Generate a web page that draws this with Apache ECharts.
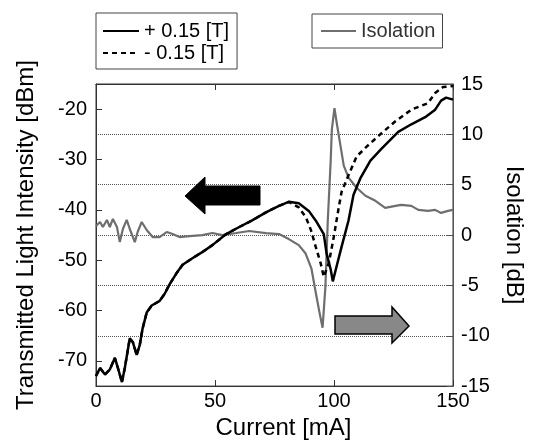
<!DOCTYPE html>
<html>
<head>
<meta charset="utf-8">
<script src="https://cdn.jsdelivr.net/npm/echarts@6/dist/echarts.min.js"></script>
<style>
  html, body { margin: 0; padding: 0; background: #fff; }
  #chart { width: 534px; height: 445px; }
</style>
</head>
<body>
<div id="chart"></div>
<script>
// + 0.15 [T] transmitted light (left axis)
const plusCurrent = [0, 1.7, 3.8, 5.8, 7.9, 9.2, 10.9, 12.1, 14.2, 15.5, 17.1, 18.4, 19.6, 21.3, 23.4, 26.7, 28.8, 30.9, 33.8, 36.4, 40.5, 44.3, 48.9, 54.7, 60.2, 65.6, 71.4, 76.9, 81.0, 85.2, 89.4, 92.3, 95.7, 96.9, 98.6, 99.5, 101.1, 103.2, 106.1, 108.2, 111.1, 115.3, 119.9, 127.0, 132.5, 138.3, 142.5, 145.0, 147.1, 150];
const plusPower = [-73, -71.4, -72.7, -71.7, -69.4, -71.4, -74.2, -71.4, -65.5, -66.3, -68.8, -66.8, -63.5, -60.4, -59.0, -58.1, -56.7, -54.8, -52.6, -50.9, -49.6, -48.5, -47.0, -44.8, -43.4, -42.1, -40.5, -39.2, -38.4, -38.7, -40.2, -42.1, -44.8, -48.7, -51.8, -54.2, -51.2, -47.3, -42.1, -37.0, -33.7, -30.2, -27.9, -24.5, -23.0, -21.6, -20.1, -18.3, -17.7, -18.1];

// - 0.15 [T] transmitted light (left axis)
const minusCurrent = [0, 1.7, 3.8, 5.8, 7.9, 9.2, 10.9, 12.1, 14.2, 15.5, 17.1, 18.4, 19.6, 21.3, 23.4, 26.7, 28.8, 30.9, 33.8, 36.4, 40.5, 44.3, 48.9, 54.7, 60.2, 65.6, 71.4, 76.9, 81.0, 85.2, 88.2, 90.3, 92.3, 94.4, 95.7, 96.3, 97.8, 99.9, 102.0, 103.2, 106.1, 109.5, 113.6, 118.7, 125.8, 132.5, 139.5, 142.5, 145.8, 150];
const minusPower = [-73, -71.4, -72.7, -71.7, -69.4, -71.4, -74.2, -71.4, -65.5, -66.3, -68.8, -66.8, -63.5, -60.4, -59.0, -58.1, -56.7, -54.8, -52.6, -50.9, -49.6, -48.5, -47.0, -44.8, -43.4, -42.1, -40.5, -39.2, -38.4, -39.5, -41.5, -44.0, -47.3, -50.6, -53.3, -53.5, -50.6, -45.4, -39.5, -36.4, -33.1, -29.4, -27.5, -25.3, -22.4, -20.1, -18.8, -16.8, -15.6, -15.4];

// Isolation (right axis)
const isoCurrent = [0, 1.7, 2.9, 4.6, 5.8, 7.1, 8.8, 10.0, 11.3, 12.9, 14.2, 16.3, 17.5, 19.2, 21.3, 23.8, 26.7, 29.7, 32.2, 35.1, 39.3, 44.7, 48.9, 53.1, 58.9, 64.4, 71.4, 76.9, 81.0, 85.2, 88.0, 90.5, 92.4, 94.0, 95.2, 96.4, 97.4, 98.6, 99.1, 100.2, 101.1, 102.7, 104.1, 106.1, 109.5, 113.2, 117.4, 121.5, 125.8, 128.3, 132.5, 135.4, 139.5, 142.5, 145.0, 147.9, 150];
const isolation = [0.9, 1.3, 0.8, 1.5, 0.8, 1.6, 0.8, -0.7, 0.6, 1.5, 0.6, -0.7, 0.3, 1.3, 0.5, -0.2, -0.2, 0.3, 0.1, -0.2, -0.1, 0.0, 0.2, 0.0, 0.2, 0.4, 0.2, 0.1, -0.4, -1.0, -1.8, -3.3, -5.8, -7.8, -9.2, -5.1, 1.5, 7.3, 10.5, 12.6, 11.2, 8.9, 6.9, 5.7, 4.7, 3.9, 3.4, 2.7, 2.9, 3.0, 2.9, 2.5, 2.4, 2.5, 2.2, 2.4, 2.5];

const leftTicks = [-70, -60, -50, -40, -30, -20];

const zip = (xs, ys) => xs.map((x, i) => [x, ys[i]]);

const chart = echarts.init(document.getElementById('chart'));
const font = '"Liberation Sans", Arial, sans-serif';

chart.setOption({
    animation: false,
    textStyle: { fontFamily: font },
    grid: { left: 96, right: 79, top: 84, bottom: 53, show: true, borderColor: '#333', borderWidth: 1 },
    legend: [
        {
            data: ['+ 0.15 [T]', '- 0.15 [T]'],
            orient: 'vertical',
            left: 96, top: 13,
            padding: [8, 8, 6, 6],
            itemGap: 2,
            itemWidth: 36, itemHeight: 14,
            itemStyle: { opacity: 0 },
            borderColor: '#444', borderWidth: 1,
            textStyle: { fontSize: 20, color: '#000', fontFamily: font, lineHeight: 20 }
        },
        {
            data: ['Isolation'],
            left: 312, top: 14,
            padding: [7, 7, 7, 8],
            itemWidth: 35, itemHeight: 14,
            itemStyle: { opacity: 0 },
            borderColor: '#444', borderWidth: 1,
            textStyle: { fontSize: 20, color: '#333', fontFamily: font, lineHeight: 20 }
        }
    ],
    xAxis: [
        {
            type: 'value', min: 0, max: 150, interval: 50, position: 'bottom',
            name: 'Current [mA]', nameLocation: 'middle', nameGap: 28,
            nameTextStyle: { fontSize: 24, color: '#000', fontFamily: font, padding: [0, 0, 0, 18] },
            axisLine: { show: true, onZero: false, lineStyle: { color: '#333' } },
            axisTick: { show: true, inside: true, length: 6, lineStyle: { color: '#333' } },
            axisLabel: { fontSize: 20, color: '#000', margin: 5, fontFamily: font },
            splitLine: { show: false }
        },
        {
            type: 'value', min: 0, max: 150, interval: 50, position: 'top',
            axisLine: { show: true, onZero: false, lineStyle: { color: '#333' } },
            axisTick: { show: true, inside: true, length: 6, lineStyle: { color: '#333' } },
            axisLabel: { show: false },
            splitLine: { show: false }
        }
    ],
    yAxis: [
        {
            type: 'value', min: -75, max: -15, interval: 5, position: 'left',
            name: 'Transmitted Light Intensity [dBm]', nameLocation: 'middle', nameGap: 58,
            nameTextStyle: { fontSize: 24, color: '#000', fontFamily: font },
            axisLine: { show: true, onZero: false, lineStyle: { color: '#333' } },
            axisTick: { show: true, inside: true, length: 6, customValues: leftTicks, lineStyle: { color: '#333' } },
            axisLabel: { fontSize: 20, color: '#000', margin: 9, customValues: leftTicks, fontFamily: font },
            splitLine: { show: false }
        },
        {
            type: 'value', min: -15, max: 15, interval: 5, position: 'right',
            name: 'Isolation [dB]', nameLocation: 'middle', nameGap: 49, nameRotate: -90,
            nameTextStyle: { fontSize: 24, color: '#000', fontFamily: font },
            axisLine: { show: true, onZero: false, lineStyle: { color: '#555' } },
            axisTick: { show: true, inside: true, length: 6, lineStyle: { color: '#555' } },
            axisLabel: { fontSize: 20, color: '#000', margin: 8, fontFamily: font },
            splitLine: { show: true, lineStyle: { type: 'dotted', color: '#555', width: 1 } }
        }
    ],
    graphic: [
        {
            type: 'polygon', z: 10,
            shape: { points: [[185, 196], [205, 177], [205, 186], [260, 186], [260, 205], [205, 205], [205, 214]] },
            style: { fill: '#000', stroke: '#000', lineWidth: 1 }
        },
        {
            type: 'polygon', z: 10,
            shape: { points: [[409, 326], [392, 307], [392, 316], [335, 316], [335, 334], [392, 334], [392, 343]] },
            style: { fill: '#888', stroke: '#000', lineWidth: 1.5 }
        }
    ],
    series: [
        {
            name: 'Isolation', type: 'line', xAxisIndex: 0, yAxisIndex: 1,
            data: zip(isoCurrent, isolation), symbol: 'none',
            lineStyle: { color: '#6e6e6e', width: 2.2 }, itemStyle: { color: '#6e6e6e' }
        },
        {
            name: '- 0.15 [T]', type: 'line', xAxisIndex: 0, yAxisIndex: 0,
            data: zip(minusCurrent, minusPower), symbol: 'none',
            lineStyle: { color: '#000', width: 2.5, type: [5, 4] }, itemStyle: { color: '#000' }
        },
        {
            name: '+ 0.15 [T]', type: 'line', xAxisIndex: 0, yAxisIndex: 0,
            data: zip(plusCurrent, plusPower), symbol: 'none',
            lineStyle: { color: '#000', width: 2.5 }, itemStyle: { color: '#000' }
        }
    ]
});
</script>
</body>
</html>
